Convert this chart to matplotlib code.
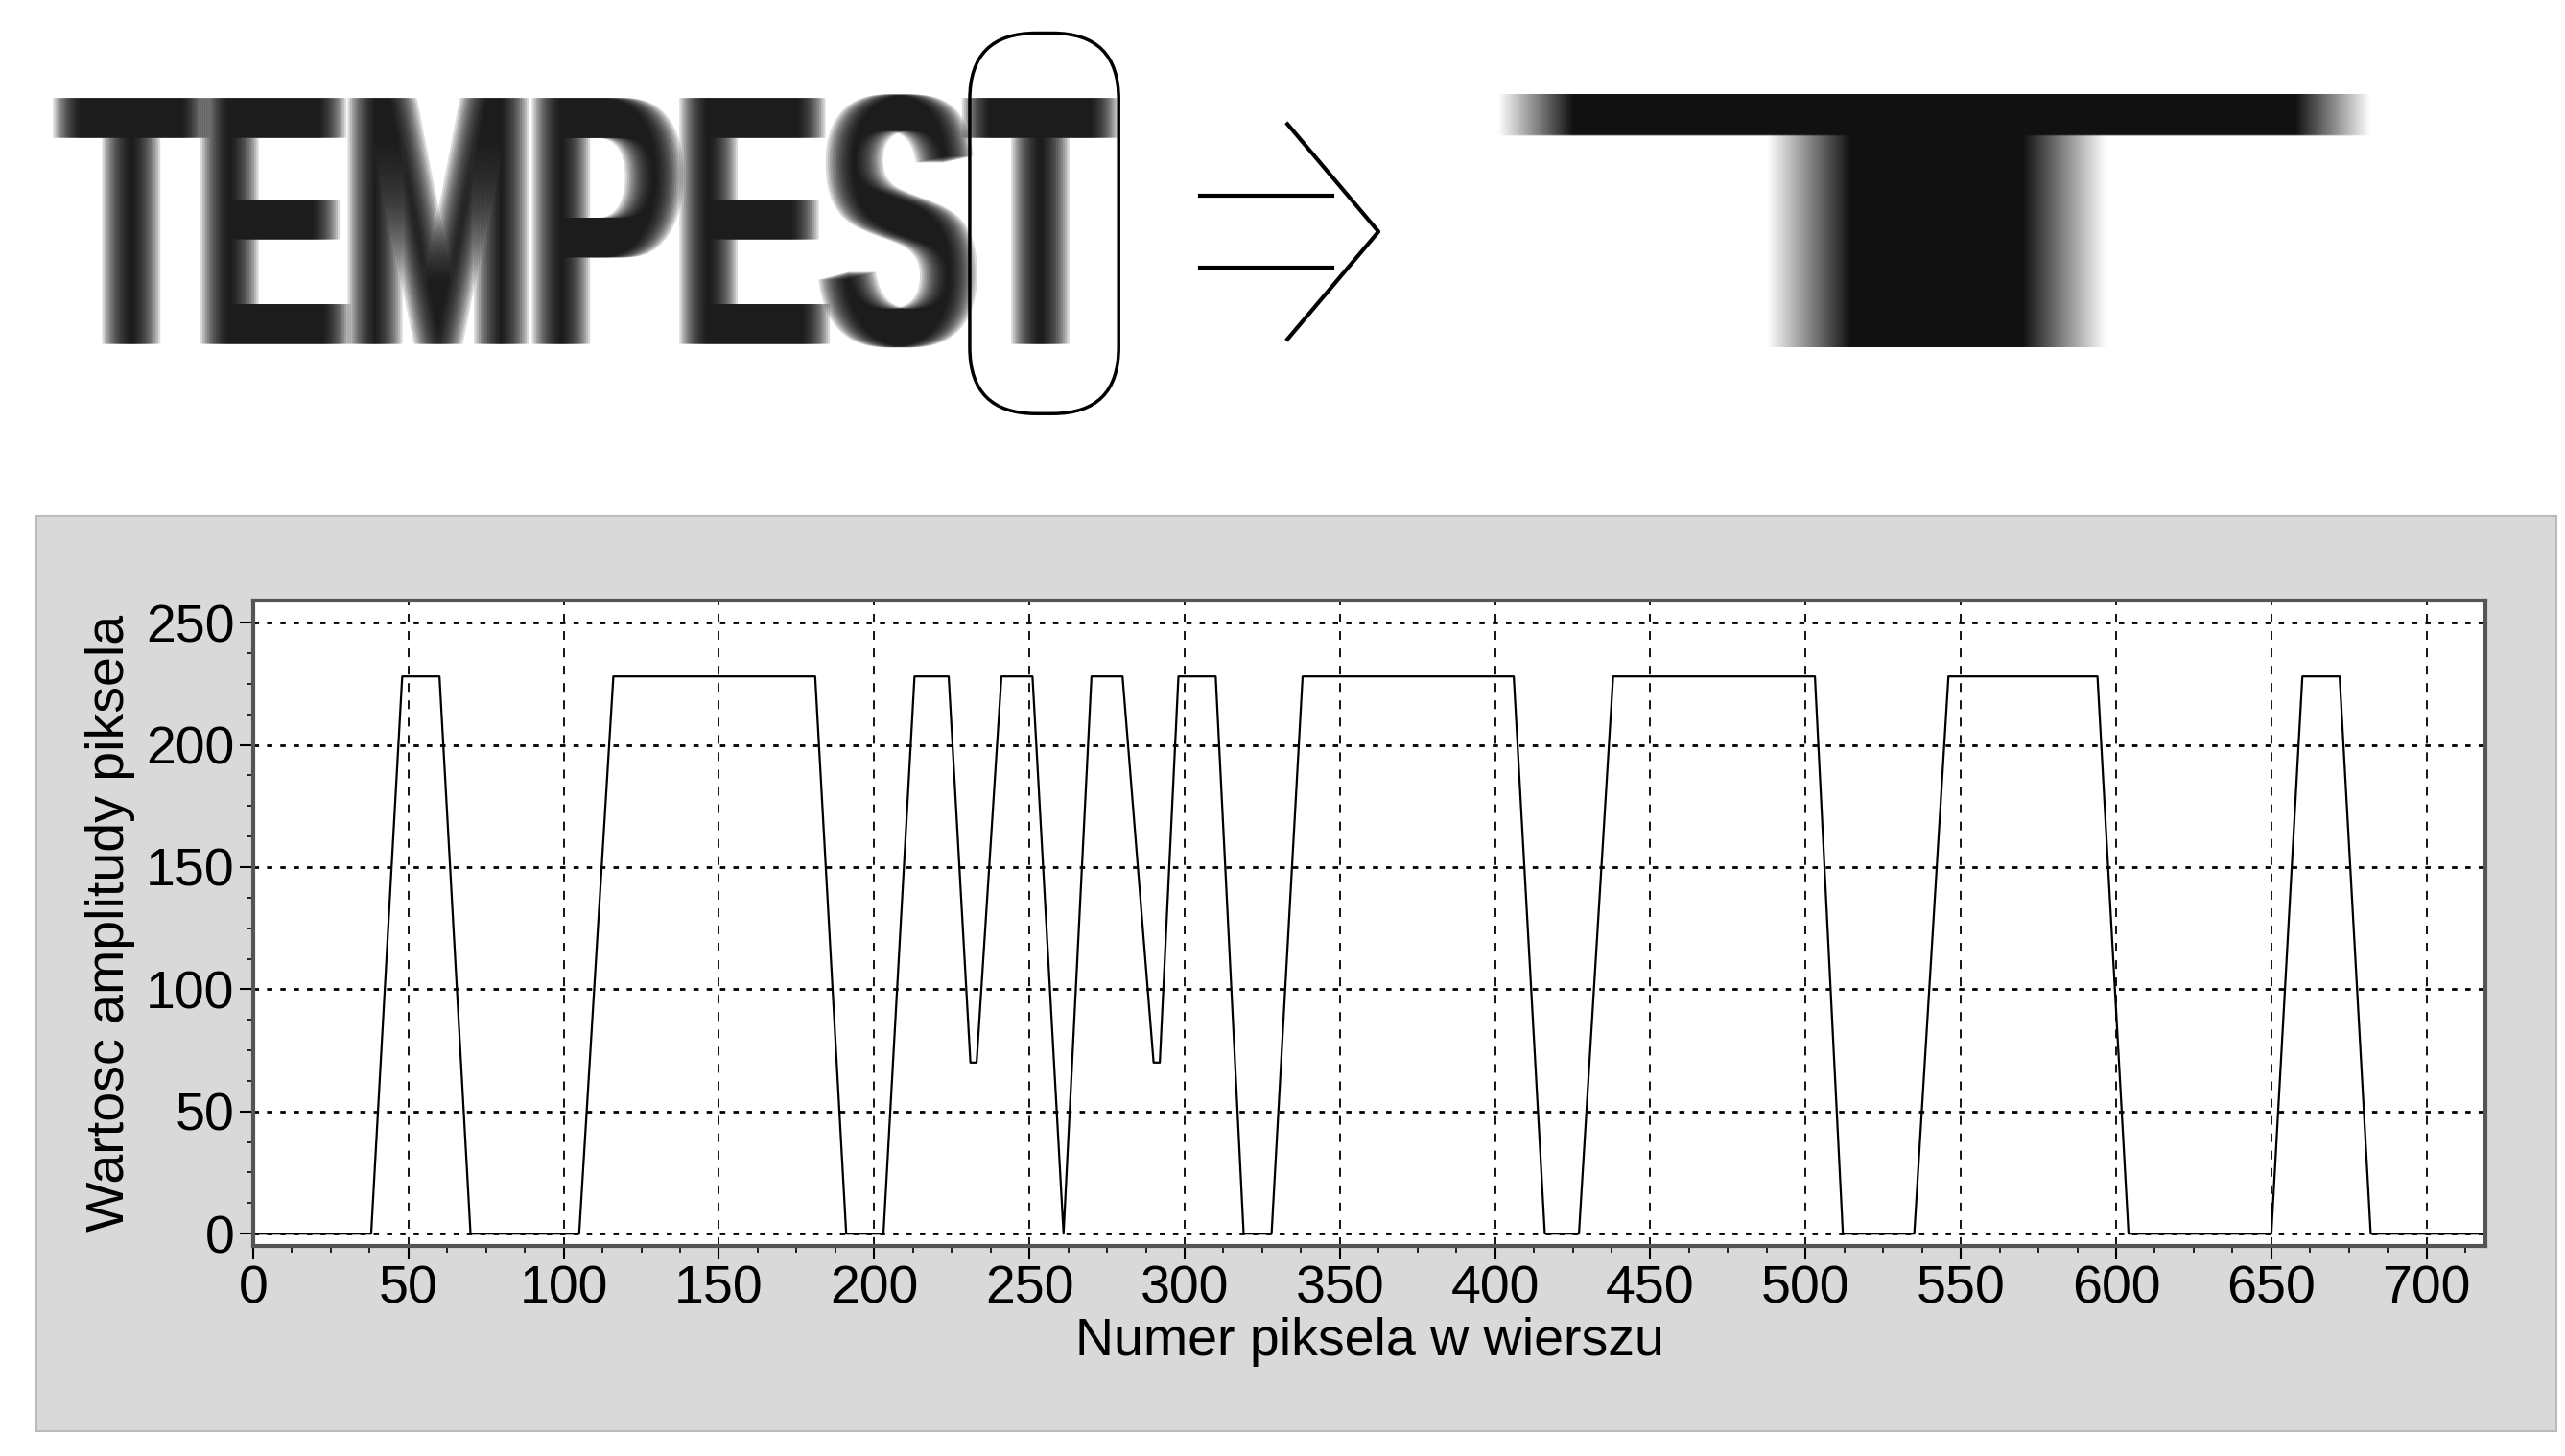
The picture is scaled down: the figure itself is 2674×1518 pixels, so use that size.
import matplotlib.pyplot as plt
import numpy as np
from matplotlib.patches import FancyBboxPatch, Rectangle, PathPatch
from matplotlib.textpath import TextPath
from matplotlib.font_manager import FontProperties
from matplotlib.transforms import Affine2D

# Pixel amplitude along the row (breakpoints)
pixel_x = [0, 38, 48, 60, 70, 105, 116, 181, 191, 203, 213, 224, 231, 233, 241, 251,
           261, 270, 280, 290, 292, 298, 310, 319, 328, 338, 406, 416, 427, 438,
           503, 512, 535, 546, 594, 604, 650, 660, 672, 682, 725]
amplitude = [0, 0, 228, 228, 0, 0, 228, 228, 0, 0, 228, 228, 70, 70, 228, 228,
             0, 228, 228, 70, 70, 228, 228, 0, 0, 228, 228, 0, 0, 228,
             228, 0, 0, 228, 228, 0, 0, 228, 228, 0, 0]
x_ticks = list(range(0, 701, 50))
y_ticks = list(range(0, 251, 50))

W, H = 1550, 880  # layout grid (same aspect as the output)
plt.rcParams['font.family'] = ['Liberation Sans', 'DejaVu Sans']
fig = plt.figure(figsize=(26.74, 15.18), dpi=100)

def fx(px):
    return px / W

def fy(py):
    return 1 - py / H

# overlay axes in layout pixels for the decorations
deco = fig.add_axes([0, 0, 1, 1], zorder=0)
deco.set_xlim(0, W)
deco.set_ylim(H, 0)
deco.axis('off')

# gray panel behind the plot
deco.add_patch(Rectangle((22, 312), 1523, 553, facecolor='#d9d9d9',
                         edgecolor='#bbbbbb', lw=1.5, zorder=0))

# blurred TEMPEST word, squeezed into its box
tp = TextPath((0, 0), 'TEMPEST', size=100, prop=FontProperties(family='Liberation Sans', weight='bold'))
ext = tp.get_extents()
sx = (668 - 40) / ext.width
sy = (210 - 57) / ext.height
for dx in np.linspace(-8, 8, 13):
    tr = Affine2D().translate(-ext.x0, -ext.y0).scale(sx, -sy).translate(40 + dx, 210)
    deco.add_patch(PathPatch(tr.transform_path(tp), facecolor='black', edgecolor='none',
                             alpha=0.15, zorder=1))

deco.add_patch(FancyBboxPatch((586, 20), 90, 230, boxstyle='round,pad=0,rounding_size=40',
                              facecolor='none', edgecolor='black', lw=2.5, zorder=3))

# double arrow
for yy in (118, 162):
    deco.plot([725, 805], [yy, yy], color='black', lw=3)
deco.plot([778, 833, 778], [75, 140, 205], color='black', lw=3)

# blurred T image
tw, th = 528, 153
img = np.zeros((th, tw))
cols = np.arange(tw)
img[0:25, :] = np.clip(np.minimum(cols, tw - 1 - cols) / 45.0, 0, 1)
img[25:, :] = np.clip(np.minimum(cols - 180, 350 - cols) / 50.0 + 0.35, 0, 1)
axi = fig.add_axes([fx(905), fy(210), fx(1433) - fx(905), fy(57) - fy(210)])
axi.imshow(img, cmap='gray_r', vmin=0, vmax=1.08, aspect='auto', interpolation='bilinear')
axi.axis('off')

# main plot
ax = fig.add_axes([fx(153), fy(753), fx(1502) - fx(153), fy(363) - fy(753)])
ax.plot(pixel_x, amplitude, color='black', lw=1.6)
ax.set_xlim(0, 719)
ax.set_ylim(-5, 259)
ax.set_xticks(x_ticks)
ax.set_yticks(y_ticks)
ax.set_xticks(np.arange(0, 720, 12.5), minor=True)
ax.set_yticks(np.arange(0, 260, 12.5), minor=True)
ax.tick_params(labelsize=40, length=10, width=1.5, pad=4)
ax.tick_params(which='minor', length=5, width=1.2)
ax.grid(True, which='major', axis='x', color='black', ls=(0, (5, 5)), lw=1.3)
ax.grid(True, which='major', axis='y', color='black', ls=(0, (2, 3)), lw=2)
for s in ax.spines.values():
    s.set_color('#555555')
    s.set_linewidth(3)
ax.set_xlabel('Numer piksela w wierszu', fontsize=40, labelpad=2)
ax.set_ylabel('Wartosc amplitudy piksela', fontsize=40, labelpad=8)

fig.savefig('out.png', dpi=100)
